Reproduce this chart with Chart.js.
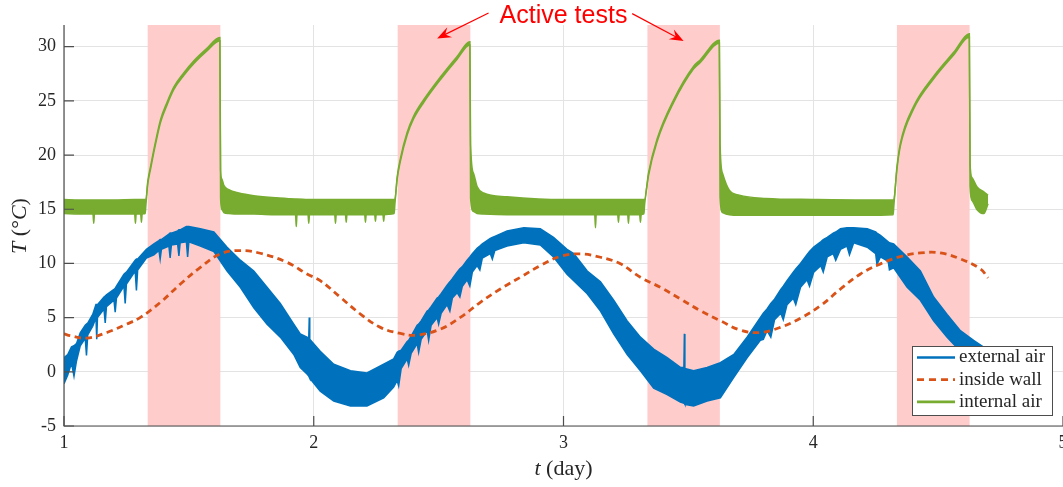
<!DOCTYPE html>
<html>
<head>
<meta charset="utf-8">
<script src="https://cdn.jsdelivr.net/npm/chart.js@4.4.1/dist/chart.umd.min.js"></script>
<style>
  html, body { margin: 0; padding: 0; background: #fff; }
  #wrap { width: 1063px; height: 487px; }
</style>
</head>
<body>
<div id="wrap"><canvas id="tempChart" width="1063" height="487"></canvas></div>
<script>
// ticks
const xTicks = [1, 2, 3, 4, 5];
const yTicks = [-5, 0, 5, 10, 15, 20, 25, 30];

// active test windows (day)
const testStart = [1.335, 2.336, 3.336, 4.335];
const testEnd = [1.626, 2.627, 3.626, 4.626];

// inside wall (dashed)
const wallDay = [1.000, 1.025, 1.092, 1.172, 1.252, 1.306, 1.386, 1.466, 1.546, 1.626, 1.706, 1.786, 1.893, 1.973,
  2.026, 2.107, 2.187, 2.267, 2.347, 2.414, 2.507, 2.587, 2.667, 2.747, 2.827, 2.907, 2.988,
  3.068, 3.148, 3.228, 3.308, 3.388, 3.468, 3.548, 3.628, 3.708, 3.788, 3.868, 3.949,
  4.029, 4.109, 4.189, 4.269, 4.349, 4.429, 4.509, 4.589, 4.669, 4.700];
const wallT = [3.5, 3.33, 3.11, 3.63, 4.41, 5.02, 6.41, 8.1, 9.64, 10.88, 11.19, 10.94, 10.1, 9.03,
  8.41, 6.87, 5.33, 4.1, 3.54, 3.39, 3.94, 5.02, 6.41, 7.64, 8.72, 9.8, 10.65,
  10.88, 10.57, 9.96, 8.72, 7.79, 6.72, 5.64, 4.71, 3.85, 3.63, 4.1, 4.95,
  6.1, 7.64, 9.03, 9.96, 10.63, 10.97, 10.97, 10.42, 9.5, 8.66];

// external air: noisy band, upper and lower edge (downward spikes in the lower edge)
const extDay = [1.000, 1.015, 1.030, 1.040, 1.050, 1.065, 1.085, 1.090, 1.095, 1.115, 1.128, 1.131, 1.134,
  1.160, 1.165, 1.170, 1.200, 1.205, 1.210, 1.240, 1.245, 1.250, 1.285, 1.290, 1.295, 1.330,
  1.360, 1.380, 1.385, 1.390, 1.420, 1.425, 1.430, 1.455, 1.460, 1.465, 1.490, 1.495, 1.500, 1.546, 1.600,
  1.653, 1.706, 1.760, 1.813, 1.866, 1.920, 1.946, 1.973, 1.980, 1.982, 1.984, 2.026, 2.080, 2.147, 2.213, 2.280,
  2.320, 2.334, 2.340, 2.350, 2.374, 2.380, 2.390, 2.414, 2.420, 2.430, 2.454, 2.460, 2.470,
  2.494, 2.500, 2.510, 2.534, 2.545, 2.555, 2.574, 2.585, 2.595, 2.614, 2.625, 2.635,
  2.654, 2.665, 2.675, 2.707, 2.715, 2.725, 2.774, 2.841, 2.907, 2.960, 3.014,
  3.041, 3.095, 3.148, 3.201, 3.255, 3.308, 3.361, 3.415, 3.468, 3.482, 3.484, 3.486, 3.521, 3.575, 3.628,
  3.682, 3.735, 3.788, 3.800, 3.815, 3.830, 3.845, 3.870, 3.880, 3.895, 3.920, 3.930, 3.949,
  3.975, 3.985, 4.002, 4.030, 4.040, 4.056, 4.080, 4.090, 4.109, 4.135, 4.145, 4.162,
  4.216, 4.250, 4.255, 4.269, 4.300, 4.305, 4.322,
  4.376, 4.429, 4.482, 4.536, 4.589, 4.642, 4.700];
const extHigh = [1.3, 1.6, 2.3, 2.4, 2.6, 3.6, 4.3, 4.4, 4.5, 5.3, 6.2, 6.2, 6.2,
  6.9, 7.0, 7.1, 7.6, 7.7, 7.9, 9.0, 9.1, 9.2, 10.3, 10.4, 10.4, 11.3,
  11.8, 12.1, 12.2, 12.2, 12.7, 12.8, 12.8, 13.0, 13.1, 13.1, 13.4, 13.4, 13.4, 13.2, 12.9,
  11.5, 10.3, 9.3, 7.8, 6.3, 4.4, 3.5, 3.2, 3.1, 5.0, 3.0, 1.9, 0.7, 0.1, -0.1, 0.7,
  1.2, 1.8, 1.9, 2.0, 2.8, 2.9, 3.3, 4.3, 4.4, 4.7, 5.6, 5.7, 6.0,
  6.8, 6.9, 7.2, 8.0, 8.3, 8.6, 9.2, 9.5, 9.7, 10.3, 10.6, 10.9,
  11.4, 11.6, 11.8, 12.3, 12.4, 12.5, 13.0, 13.3, 13.2, 12.4, 11.3,
  10.9, 9.3, 8.3, 6.6, 4.7, 3.2, 2.1, 1.3, 0.4, 0.4, 3.5, 0.3, 0.1, 0.4, 0.85,
  1.6, 3.2, 5.0, 5.4, 5.8, 6.3, 6.7, 7.6, 7.9, 8.4, 9.2, 9.5, 10.0,
  10.8, 11.1, 11.5, 12.0, 12.2, 12.4, 12.8, 12.9, 13.2, 13.3, 13.3, 13.3,
  13.2, 12.9, 12.8, 12.6, 12.0, 11.9, 11.8,
  10.6, 9.3, 6.9, 5.3, 3.8, 2.9, 2.0];
const extLow = [-1.1, -0.3, 0.8, -0.4, 1.0, 2.4, 3.1, 1.5, 3.4, 4.2, 5.0, 3.0, 5.0,
  5.8, 4.5, 6.0, 6.6, 5.5, 6.8, 7.9, 6.3, 8.1, 9.3, 7.5, 9.4, 10.5,
  10.8, 11.2, 10.4, 11.3, 11.6, 10.5, 11.7, 11.8, 10.7, 11.9, 12.0, 10.6, 12.0, 11.6, 11.1,
  9.3, 7.8, 5.9, 4.4, 3.2, 1.6, 0.4, -0.2, -0.4, -0.5, -0.6, -1.8, -2.7, -3.15, -3.15, -2.4,
  -1.4, -0.8, -1.3, 0.3, 1.2, 0.6, 1.7, 2.6, 1.8, 3.0, 3.8, 2.9, 4.3,
  5.0, 4.4, 5.4, 6.2, 5.6, 6.8, 7.3, 6.9, 7.9, 8.5, 7.9, 9.2,
  9.8, 9.4, 10.5, 10.9, 10.4, 11.2, 11.6, 11.9, 11.7, 10.6, 9.0,
  8.4, 7.2, 5.6, 3.5, 1.6, 0.1, -1.5, -2.1, -2.8, -2.9, -2.9, -3.0, -3.15, -2.7, -2.4,
  -0.5, 1.3, 2.9, 3.0, 3.8, 3.2, 4.8, 5.4, 4.8, 6.2, 6.8, 6.2, 7.8,
  8.5, 7.9, 9.2, 9.8, 9.2, 10.6, 10.9, 10.3, 11.3, 11.6, 10.8, 11.9,
  11.5, 10.9, 9.9, 10.6, 10.2, 9.4, 9.6,
  7.8, 6.6, 4.7, 3.2, 1.9, 1.0, 0.6];

// internal air: noisy band, upper and lower edge
const intDay = [1.000, 1.060, 1.116, 1.119, 1.122, 1.200, 1.283, 1.286, 1.289, 1.307, 1.310, 1.313, 1.325,
  1.328, 1.335, 1.347, 1.367, 1.387, 1.413, 1.440, 1.480, 1.520, 1.570, 1.624,
  1.627, 1.632, 1.640, 1.660, 1.700, 1.760, 1.850, 1.927, 1.930, 1.933, 1.977, 1.980, 1.983,
  2.084, 2.087, 2.090, 2.127, 2.130, 2.133, 2.204, 2.207, 2.210, 2.244, 2.247, 2.250, 2.277, 2.280, 2.283, 2.322,
  2.325, 2.334, 2.347, 2.374, 2.400, 2.440, 2.507, 2.574, 2.625,
  2.628, 2.640, 2.654, 2.680, 2.774, 2.900, 3.000, 3.125, 3.128, 3.131, 3.217, 3.220, 3.223,
  3.257, 3.260, 3.263, 3.305, 3.308, 3.311, 3.322,
  3.325, 3.340, 3.375, 3.441, 3.521, 3.548, 3.624,
  3.627, 3.637, 3.664, 3.704, 3.810, 4.000, 4.200, 4.320,
  4.323, 4.335, 4.349, 4.402, 4.483, 4.563, 4.625,
  4.628, 4.636, 4.656, 4.683, 4.700];
const intHigh = [15.9, 15.85, 15.85, 15.85, 15.85, 15.85, 15.9, 15.9, 15.9, 15.9, 15.9, 15.9, 15.9,
  15.9, 17.5, 19.0, 21.3, 23.3, 24.9, 26.3, 27.6, 28.7, 29.8, 30.85,
  18.6, 17.8, 17.2, 16.8, 16.5, 16.25, 16.05, 15.95, 15.95, 15.95, 15.9, 15.9, 15.9,
  15.9, 15.9, 15.9, 15.9, 15.9, 15.9, 15.9, 15.9, 15.9, 15.9, 15.9, 15.9, 15.9, 15.9, 15.9, 15.9,
  15.9, 18.0, 19.7, 22.1, 23.6, 25.1, 27.2, 29.1, 30.45,
  21.0, 18.3, 17.1, 16.5, 16.15, 15.95, 15.9, 15.9, 15.9, 15.9, 15.9, 15.9, 15.9,
  15.9, 15.9, 15.9, 15.9, 15.9, 15.9, 15.9,
  15.9, 18.3, 21.5, 25.1, 28.2, 28.8, 30.6,
  21.0, 18.3, 16.75, 16.3, 16.0, 15.9, 15.85, 15.85,
  15.9, 18.9, 21.1, 24.5, 27.3, 29.5, 31.2,
  19.2, 17.9, 17.05, 16.6, 16.3];
const intLow = [14.6, 14.55, 14.55, 13.7, 14.55, 14.55, 14.55, 13.7, 14.55, 14.55, 13.8, 14.55, 14.6,
  15.4, 17.25, 18.75, 21.05, 23.05, 24.65, 26.05, 27.35, 28.45, 29.55, 30.55,
  16.0, 15.0, 14.7, 14.6, 14.55, 14.55, 14.5, 14.5, 13.4, 14.5, 14.5, 13.7, 14.5,
  14.5, 13.7, 14.5, 14.5, 13.8, 14.5, 14.5, 13.8, 14.5, 14.5, 13.9, 14.5, 14.5, 13.9, 14.5, 14.6,
  15.5, 17.75, 19.45, 21.85, 23.35, 24.85, 26.95, 28.85, 30.15,
  16.0, 14.8, 14.6, 14.55, 14.5, 14.5, 14.5, 14.5, 13.3, 14.5, 14.5, 13.8, 14.5,
  14.5, 13.7, 14.5, 14.5, 13.8, 14.5, 14.6,
  15.5, 18.05, 21.25, 24.85, 27.95, 28.55, 30.35,
  16.0, 14.7, 14.5, 14.45, 14.45, 14.45, 14.45, 14.5,
  15.4, 18.65, 20.85, 24.25, 27.05, 29.25, 30.9,
  17.0, 15.8, 14.96, 14.6, 15.5];

const BLUE = '#0072BD', ORANGE = '#D95319', GREEN = '#77AC30';
const AXIS = '#4d4d4d', TEXT = '#262626';
const SERIF = '"Liberation Serif", "Times New Roman", serif';

function pts(xs, ys) { return xs.map((d, i) => ({ x: d, y: ys[i] })); }

// helper to draw text with italic parts
function drawRuns(ctx, runs, cx, cy, size) {
  let total = 0;
  runs.forEach(r => {
    ctx.font = (r.it ? 'italic ' : '') + size + 'px ' + SERIF;
    r.w = ctx.measureText(r.t).width;
    total += r.w;
  });
  let x = cx - total / 2;
  ctx.textAlign = 'left';
  ctx.textBaseline = 'middle';
  runs.forEach(r => {
    ctx.font = (r.it ? 'italic ' : '') + size + 'px ' + SERIF;
    ctx.fillText(r.t, x, cy);
    x += r.w;
  });
}

function arrow(ctx, x0, y0, x1, y1) {
  const a = Math.atan2(y1 - y0, x1 - x0);
  const len = 14, half = 5.5;
  const c = Math.cos(a), s = Math.sin(a);
  ctx.beginPath();
  ctx.moveTo(x0, y0);
  ctx.lineTo(x1 - c * 8, y1 - s * 8);
  ctx.stroke();
  ctx.beginPath();
  ctx.moveTo(x1, y1);
  ctx.lineTo(x1 - len * c + half * s, y1 - len * s - half * c);
  ctx.lineTo(x1 - 9 * c, y1 - 9 * s);
  ctx.lineTo(x1 - len * c - half * s, y1 - len * s + half * c);
  ctx.closePath();
  ctx.fill();
}

const shadePlugin = {
  id: 'shades',
  beforeDatasetsDraw(chart) {
    const { ctx, chartArea, scales } = chart;
    ctx.save();
    ctx.fillStyle = '#FFCCCC';
    testStart.forEach((s, i) => {
      const x0 = scales.x.getPixelForValue(s);
      const x1 = scales.x.getPixelForValue(testEnd[i]);
      ctx.fillRect(x0, chartArea.top, x1 - x0, chartArea.bottom - chartArea.top);
    });
    ctx.restore();
  }
};

const axesPlugin = {
  id: 'axesExtra',
  afterDatasetsDraw(chart) {
    const { ctx, chartArea, scales } = chart;
    const { left, bottom, top } = chartArea;
    ctx.save();
    ctx.strokeStyle = AXIS;
    ctx.lineWidth = 1.2;
    ctx.beginPath();
    ctx.moveTo(left, top);
    ctx.lineTo(left, bottom);
    ctx.lineTo(chart.width, bottom);
    ctx.stroke();
    // inward ticks
    ctx.beginPath();
    yTicks.forEach(v => {
      const y = scales.y.getPixelForValue(v);
      ctx.moveTo(left, y); ctx.lineTo(left + 10, y);
    });
    xTicks.forEach(v => {
      const x = scales.x.getPixelForValue(v);
      ctx.moveTo(x, bottom); ctx.lineTo(x, bottom - 10);
    });
    ctx.stroke();
    ctx.restore();
  },
  afterDraw(chart) {
    const { ctx, chartArea, scales } = chart;
    ctx.save();
    ctx.fillStyle = TEXT;
    // x tick labels
    ctx.font = '18px ' + SERIF;
    ctx.textAlign = 'center';
    ctx.textBaseline = 'middle';
    xTicks.forEach(v => ctx.fillText(String(v), scales.x.getPixelForValue(v), 443));
    // axis titles
    drawRuns(ctx, [{ t: 't', it: true }, { t: ' (day)', it: false }], (chartArea.left + chartArea.right) / 2, 469, 22);
    ctx.translate(20, 226);
    ctx.rotate(-Math.PI / 2);
    drawRuns(ctx, [{ t: 'T', it: true }, { t: ' (\u00B0', it: false }, { t: 'C', it: true }, { t: ')', it: false }], 0, 0, 22);
    ctx.restore();

    // annotation
    ctx.save();
    ctx.fillStyle = '#FF0000';
    ctx.strokeStyle = '#FF0000';
    ctx.lineWidth = 1.2;
    ctx.font = '25px "Liberation Sans", Arial, sans-serif';
    ctx.textAlign = 'center';
    ctx.textBaseline = 'alphabetic';
    ctx.fillText('Active tests', scales.x.getPixelForValue(3.0), scales.y.getPixelForValue(32.15));
    arrow(ctx, scales.x.getPixelForValue(2.70), scales.y.getPixelForValue(33.1),
      scales.x.getPixelForValue(2.494), scales.y.getPixelForValue(30.76));
    arrow(ctx, scales.x.getPixelForValue(3.275), scales.y.getPixelForValue(33.05),
      scales.x.getPixelForValue(3.481), scales.y.getPixelForValue(30.52));
    ctx.restore();

    // legend box
    ctx.save();
    const bx = 912, by = 346, bw = 140, bh = 69;
    ctx.fillStyle = '#fff';
    ctx.fillRect(bx, by, bw, bh);
    ctx.strokeStyle = '#4d4d4d';
    ctx.lineWidth = 1;
    ctx.strokeRect(bx + 0.5, by + 0.5, bw, bh);
    const rows = [
      { label: 'external air', color: BLUE, dash: [] },
      { label: 'inside wall', color: ORANGE, dash: [7, 5] },
      { label: 'internal air', color: GREEN, dash: [] }
    ];
    rows.forEach((r, i) => {
      const y = 357.5 + i * 22.2;
      ctx.strokeStyle = r.color;
      ctx.lineWidth = 2.7;
      ctx.setLineDash(r.dash);
      ctx.beginPath();
      ctx.moveTo(917, y); ctx.lineTo(955, y);
      ctx.stroke();
      ctx.setLineDash([]);
      ctx.fillStyle = TEXT;
      ctx.font = '19px ' + SERIF;
      ctx.textAlign = 'left';
      ctx.textBaseline = 'middle';
      ctx.fillText(r.label, 959, y);
    });
    ctx.restore();
  }
};

const ctx = document.getElementById('tempChart').getContext('2d');
const tempChart = new Chart(ctx, {
  type: 'line',
  data: {
    datasets: [
      { label: 'inside wall', data: pts(wallDay, wallT), borderColor: ORANGE, borderWidth: 2.8,
        borderDash: [6.5, 4.5], pointRadius: 0, tension: 0.4, fill: false, order: 0 },
      { label: 'external air', data: pts(extDay, extHigh), borderColor: BLUE, backgroundColor: BLUE,
        borderWidth: 1.5, pointRadius: 0, tension: 0, fill: '+1', order: 1 },
      { label: 'external air low', data: pts(extDay, extLow), borderColor: BLUE, borderWidth: 1.5,
        pointRadius: 0, tension: 0, fill: false, order: 1 },
      { label: 'internal air', data: pts(intDay, intHigh), borderColor: GREEN, backgroundColor: GREEN,
        borderWidth: 1.5, pointRadius: 0, cubicInterpolationMode: 'monotone', fill: '+1', order: 1 },
      { label: 'internal air low', data: pts(intDay, intLow), borderColor: GREEN, borderWidth: 1.5,
        pointRadius: 0, cubicInterpolationMode: 'monotone', fill: false, order: 1 }
    ]
  },
  options: {
    responsive: false,
    animation: false,
    devicePixelRatio: 1,
    layout: { padding: { top: 25, right: 0, bottom: 0, left: 0 } },
    plugins: { legend: { display: false }, tooltip: { enabled: false } },
    scales: {
      x: {
        type: 'linear', min: 1, max: 5,
        afterBuildTicks: s => { s.ticks = xTicks.map(v => ({ value: v })); },
        afterFit: s => { s.height = 61; },
        ticks: { display: false },
        grid: { color: '#e3e3e3', lineWidth: 1, drawTicks: false },
        border: { display: false }
      },
      y: {
        min: -5, max: 32,
        afterBuildTicks: s => { s.ticks = yTicks.map(v => ({ value: v })); },
        afterFit: s => { s.width = 64; },
        ticks: { padding: 8, color: TEXT, font: { family: SERIF, size: 18 } },
        grid: { color: '#e3e3e3', lineWidth: 1, drawTicks: false },
        border: { display: false }
      }
    }
  },
  plugins: [shadePlugin, axesPlugin]
});
</script>
</body>
</html>
